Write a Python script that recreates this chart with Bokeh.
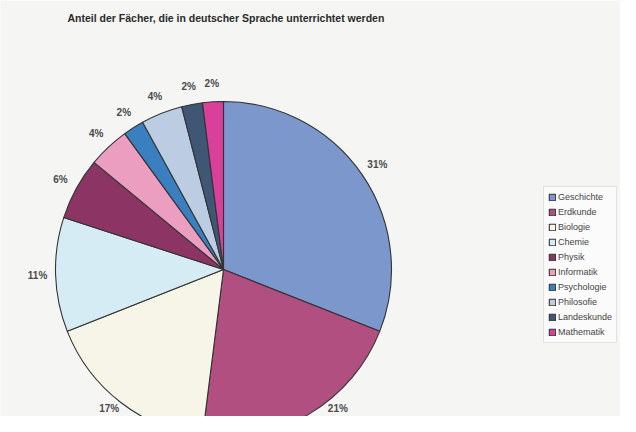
import math
from bokeh.plotting import figure
from bokeh.models import ColumnDataSource, Range1d, Label
from bokeh.core.properties import value
from bokeh.embed import file_html
from bokeh.resources import INLINE

# Data
subjects = ["Geschichte", "Erdkunde", "Biologie", "Chemie", "Physik",
            "Informatik", "Psychologie", "Philosofie", "Landeskunde", "Mathematik"]
shares = [31, 21, 17, 11, 6, 4, 2, 4, 2, 2]
colors = ["#7b97cc", "#b04f80", "#f7f4e8", "#d6ecf4", "#8c3565",
          "#ec9ec0", "#3a80c0", "#bccde3", "#3f5675", "#d8409a"]
title_text = "Anteil der Fächer, die in deutscher Sprache unterrichtet werden"

total = sum(shares)
starts, ends, lx, ly, labels = [], [], [], [], []
cum = 0.0
R = 168
RL = 186
YMIN = -147
YCLAMP = YMIN + 8
for s in shares:
    t0 = cum / total * 2 * math.pi
    cum += s
    t1 = cum / total * 2 * math.pi
    starts.append(math.pi / 2 - t0)
    ends.append(math.pi / 2 - t1)
    tm = (t0 + t1) / 2
    x, y = RL * math.sin(tm), RL * math.cos(tm)
    if y < YCLAMP:
        # keep label inside the visible frame, pushed sideways out of the pie
        y = YCLAMP
        x = math.copysign(math.sqrt(180 ** 2 - y ** 2), x)
    lx.append(x)
    ly.append(y)
    labels.append(f"{s}%")

src = ColumnDataSource(dict(start=starts, end=ends, color=colors, name=subjects))
lsrc = ColumnDataSource(dict(x=lx, y=ly, text=labels))

W, H = 620, 416
p = figure(width=W, height=H, output_backend="svg", toolbar_location=None,
           x_range=Range1d(-223, W - 223), y_range=Range1d(YMIN, YMIN + H),
           min_border=0, background_fill_color="#f5f5f3", border_fill_color="#f5f5f3")
p.axis.visible = False
p.grid.visible = False
p.outline_line_color = None

p.wedge(x=0, y=0, radius=R, start_angle="start", end_angle="end", direction="clock",
        fill_color="color", line_color="#333333", line_width=1.1,
        legend_field="name", source=src)

p.text(x="x", y="y", text="text", source=lsrc, text_align="center",
       text_baseline="middle", text_font_size="10px", text_font_style="bold",
       text_color="#4a4a4a", text_font=value("Liberation Sans"))

p.add_layout(Label(x=67, y=H - 17, x_units="screen", y_units="screen", text=title_text,
                   text_font_size="10.5px", text_font_style="bold", text_color="#2a2a2a",
                   text_baseline="middle", text_font="Liberation Sans"))

lg = p.legend[0]
lg.location = (543, H - 343)
lg.glyph_width = 8
lg.glyph_height = 8
lg.label_height = 12
lg.label_standoff = 2
lg.spacing = 3
lg.padding = 4
lg.margin = 0
lg.label_text_font_size = "9px"
lg.label_text_font = "Liberation Sans"
lg.label_text_color = "#444444"
lg.background_fill_color = "#fbfbfb"
lg.background_fill_alpha = 1.0
lg.border_line_color = "#c8c8c8"
lg.border_line_width = 1

open("out.html", "w").write(file_html(p, INLINE))
